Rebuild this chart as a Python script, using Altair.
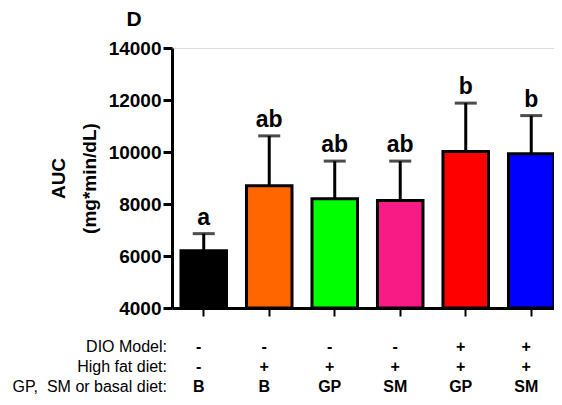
import altair as alt
import pandas as pd

groups = ["G1", "G2", "G3", "G4", "G5", "G6"]
means = [6200, 8700, 8200, 8130, 10020, 9930]
upper = [6860, 10620, 9650, 9650, 11880, 11400]
letters = ["a", "ab", "ab", "ab", "b", "b"]
colors = ["#000000", "#FF6600", "#00FF00", "#F81A85", "#FF0000", "#0000FF"]
dio = ["-", "-", "-", "-", "+", "+"]
hfd = ["-", "+", "+", "+", "+", "+"]
diet = ["B", "B", "GP", "SM", "GP", "SM"]
row_labels = ["DIO Model:", "High fat diet:", "GP,\u00a0 SM or basal diet:"]
y_ticks = [4000, 6000, 8000, 10000, 12000, 14000]

df = pd.DataFrame({"g": groups, "mean": means, "upper": upper, "letter": letters,
                   "color": colors, "dio": dio, "hfd": hfd, "diet": diet})

W, H = 382, 260
font = "Liberation Sans"

xs = alt.Scale(domain=groups, paddingInner=0.305, paddingOuter=0.0685, align=1.0, round=False)
ys = alt.Scale(domain=[4000, 14000], nice=False, zero=False)

x_enc = alt.X("g:N", scale=xs, sort=groups,
              axis=alt.Axis(labels=False, title=None, domainWidth=3, domainColor="black",
                            tickWidth=2, tickSize=8, tickColor="black"))

base = alt.Chart(df)

bars = base.mark_bar(stroke="black", strokeWidth=3).encode(
    x=x_enc,
    y=alt.Y("mean:Q", scale=ys,
            axis=alt.Axis(values=y_ticks, format="d", title=["AUC", "(mg*min/dL)"],
                          titleFontSize=19, titleFontWeight="bold", titleFont=font,
                          titleColor="black", titlePadding=9, titleLineHeight=31,
                          labelFontSize=19, labelFontWeight="bold", labelFont=font,
                          labelColor="black", labelPadding=2,
                          domainWidth=3, domainColor="black", tickWidth=3, tickSize=9,
                          tickColor="black", grid=False)),
    y2=alt.datum(4000),
    fill=alt.Color("color:N", scale=None),
)

err = base.mark_rule(strokeWidth=3, color="black").encode(
    x=alt.X("g:N", scale=xs, sort=groups), y=alt.Y("mean:Q", scale=ys), y2="upper:Q")

caps = base.mark_tick(thickness=3, size=22, color="black").encode(
    x=alt.X("g:N", scale=xs, sort=groups), y=alt.Y("upper:Q", scale=ys))

lett = base.mark_text(fontSize=23, fontWeight="bold", font=font, baseline="alphabetic",
                      dy=-9, color="black").encode(
    x=alt.X("g:N", scale=xs, sort=groups), y=alt.Y("upper:Q", scale=ys), text="letter:N")

row_y = [H + 39, H + 59, H + 78.5]
col_layers = []
for field, yy in [("dio", row_y[0]), ("hfd", row_y[1]), ("diet", row_y[2])]:
    col_layers.append(base.mark_text(fontSize=16, fontWeight="bold", font=font, dx=-5,
                                     baseline="middle", color="black").encode(
        x=alt.X("g:N", scale=xs, sort=groups), y=alt.value(yy), text=f"{field}:N"))

row_layers = []
for i, lab in enumerate(row_labels):
    row_layers.append(alt.Chart(pd.DataFrame({"label": [lab]})).mark_text(
        fontSize=16, font=font, align="right", baseline="middle", color="black").encode(
        x=alt.value(-5), y=alt.value(row_y[i]), text="label:N"))

title_d = alt.Chart(pd.DataFrame({"t": ["D"]})).mark_text(
    fontSize=21, fontWeight="bold", font=font, align="center", baseline="middle",
    color="black").encode(x=alt.value(-38), y=alt.value(-28), text="t:N")

chart = alt.layer(bars, err, caps, lett, *col_layers, *row_layers, title_d).properties(
    width=W, height=H,
    autosize=alt.AutoSizeParams(type="none"),
    padding={"left": 164, "top": 40, "right": 0, "bottom": 87},
).configure_view(stroke=None).configure(background="white")

chart.save("out.html", embed_options={"renderer": "svg", "actions": False})
